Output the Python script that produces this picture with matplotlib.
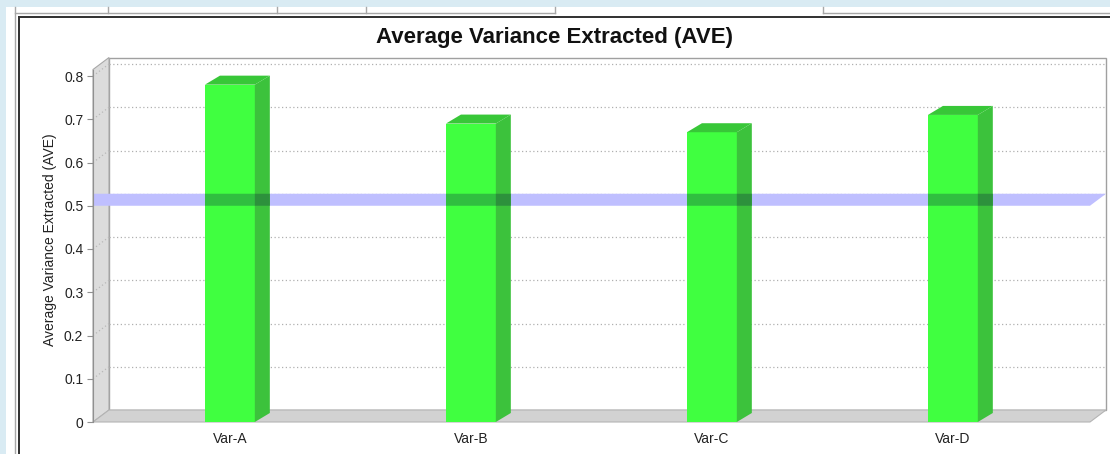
#!/usr/bin/env python

"""Average Variance Extracted (AVE) per variable, pseudo-3D bar chart."""

import matplotlib
matplotlib.use("Agg")
import matplotlib.pyplot as plt
from matplotlib.patches import Polygon, Rectangle
from matplotlib.lines import Line2D

categories = ["Var-A", "Var-B", "Var-C", "Var-D"]
ave_values = [0.78, 0.69, 0.67, 0.71]
threshold = 0.5
y_ticks = [0, 0.1, 0.2, 0.3, 0.4, 0.5, 0.6, 0.7, 0.8]
y_tick_labels = ["0", "0.1", "0.2", "0.3", "0.4", "0.5", "0.6", "0.7", "0.8"]
y_max = 0.815

plt.rcParams["font.family"] = ["Liberation Sans", "DejaVu Sans"]

W, H = 1110, 454
fig = plt.figure(figsize=(W / 100, H / 100), dpi=100)
fig.patch.set_facecolor("white")


def fx(x):
    return x / W


def fy(y):
    return 1 - y / H


# window chrome around the chart
fig.add_artist(Rectangle((0, fy(7)), 1, 7 / H, transform=fig.transFigure,
                         facecolor="#d9ebf3", edgecolor="none"))
fig.add_artist(Rectangle((0, 0), fx(6), 1, transform=fig.transFigure,
                         facecolor="#d9ebf3", edgecolor="none"))
fig.add_artist(Line2D([fx(15), fx(15)], [fy(7), 0], transform=fig.transFigure,
                      color="#a8a8a8", lw=1))
fig.add_artist(Line2D([fx(15), fx(555)], [fy(13), fy(13)], transform=fig.transFigure,
                      color="#a8a8a8", lw=1))
fig.add_artist(Line2D([fx(823), 1], [fy(13), fy(13)], transform=fig.transFigure,
                      color="#a8a8a8", lw=1))
for tx in [108, 277, 366, 555, 823]:
    fig.add_artist(Line2D([fx(tx), fx(tx)], [fy(7), fy(13)], transform=fig.transFigure,
                          color="#a8a8a8", lw=1))
fig.add_artist(Line2D([fx(19), 1], [fy(17), fy(17)], transform=fig.transFigure,
                      color="#303030", lw=1.4))
fig.add_artist(Line2D([fx(19), fx(19)], [fy(17), 0], transform=fig.transFigure,
                      color="#303030", lw=1.4))

# axes = front plane of the 3D box
ax = fig.add_axes([fx(93), (H - 422) / H, 997 / W, y_max * 432.5 / H])
ax.set_facecolor("none")
x_pos = list(range(len(categories)))
x0, x1 = -0.568, 3.569
ax.set_xlim(x0, x1)
ax.set_ylim(0, y_max)

# convert pixel depth offsets into data units
px_x = ax.transData.transform((1, 0))[0] - ax.transData.transform((0, 0))[0]
px_y = ax.transData.transform((0, 1))[1] - ax.transData.transform((0, 0))[1]
wdx, wdy = 16 / px_x, 12 / px_y   # wall depth
bdx, bdy = 15 / px_x, 9 / px_y    # bar depth

# back wall, left wall, floor
ax.add_patch(Rectangle((x0 + wdx, wdy), x1 - x0, y_max, facecolor="white",
                       edgecolor="#a0a0a0", lw=1, clip_on=False, zorder=0.5))
ax.add_patch(Polygon([(x0, 0), (x0, y_max), (x0 + wdx, y_max + wdy), (x0 + wdx, wdy)],
                     closed=True, facecolor="#dcdcdc", edgecolor="#a8a8a8", lw=0.8,
                     clip_on=False, zorder=0.6))
ax.add_patch(Polygon([(x0, 0), (x1, 0), (x1 + wdx, wdy), (x0 + wdx, wdy)],
                     closed=True, facecolor="#d2d2d2", edgecolor="#b4b4b4", lw=0.8,
                     clip_on=False, zorder=0.6))

# dotted gridlines on back wall and left wall
for t in y_ticks[1:]:
    ax.plot([x0 + wdx, x1 + wdx], [t + wdy, t + wdy], color="#b0b0b0", lw=0.9,
            ls=(0, (1, 2)), clip_on=False, zorder=0.7)
    ax.plot([x0, x0 + wdx], [t, t + wdy], color="#b8b8b8", lw=0.9,
            ls=(0, (1, 2)), clip_on=False, zorder=0.7)

# threshold band at 0.5
band_color = (0.75, 0.75, 1.0)
band_pts = [(x0, threshold), (x1, threshold), (x1 + wdx, threshold + wdy),
            (x0, threshold + wdy)]
ax.add_patch(Polygon(band_pts, closed=True, facecolor=band_color, edgecolor="none",
                     clip_on=False, zorder=1))

# bars
bw = 0.207
front_c = (0.25, 1.0, 0.25)
side_c = (0.235, 0.76, 0.235)
top_c = (0.22, 0.78, 0.22)
bars = ax.bar(x_pos, ave_values, width=bw, color=front_c, edgecolor="none", zorder=3)
for xp, v, rect in zip(x_pos, ave_values, bars):
    r = xp + bw / 2
    l = xp - bw / 2
    side = Polygon([(r, 0), (r + bdx, bdy), (r + bdx, v + bdy), (r, v)], closed=True,
                   facecolor=side_c, edgecolor="none", clip_on=False, zorder=3)
    top = Polygon([(l, v), (r, v), (r + bdx, v + bdy), (l + bdx, v + bdy)], closed=True,
                  facecolor=top_c, edgecolor="none", clip_on=False, zorder=3)
    ax.add_patch(side)
    ax.add_patch(top)
    # band seen through the bar faces (multiply blend)
    for face, fc in [(rect, front_c), (side, side_c)]:
        mixed = tuple(a * b for a, b in zip(fc, band_color))
        over = Polygon(band_pts, closed=True, facecolor=mixed, edgecolor="none",
                       zorder=3.5)
        ax.add_patch(over)
        over.set_clip_on(True)
        over.set_clip_box(None)
        over.set_clip_path(face)

# axes styling
for s in ["top", "right", "bottom"]:
    ax.spines[s].set_visible(False)
ax.spines["left"].set_color("#909090")
ax.set_yticks(y_ticks)
ax.set_yticklabels(y_tick_labels)
ax.set_xticks(x_pos)
ax.set_xticklabels(categories)
ax.tick_params(axis="y", length=4, color="#909090", labelsize=10, labelcolor="#222222", pad=3)
ax.tick_params(axis="x", length=0, labelsize=10, labelcolor="#222222", pad=7)

fig.text(fx(50), fy(240), "Average Variance Extracted (AVE)", rotation=90,
         ha="center", va="center", fontsize=10, color="#222222")
fig.text(fx(554), fy(37), "Average Variance Extracted (AVE)", ha="center", va="center",
         fontsize=16, fontweight="bold", color="#111111")

fig.savefig("out.png", dpi=100)
